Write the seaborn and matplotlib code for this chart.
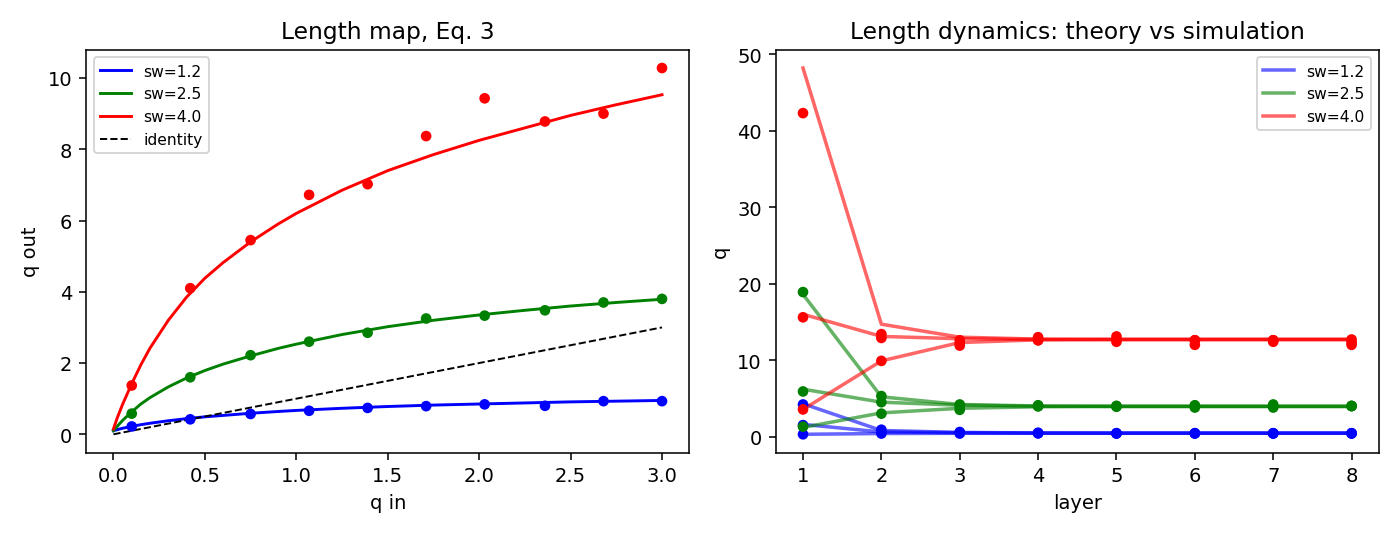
import matplotlib
matplotlib.use("Agg")
import matplotlib.pyplot as plt
import seaborn as sns
import pandas as pd

plt.rcParams['font.family'] = ['DejaVu Sans']

# Left panel data
q_curve = [0, 0.02, 0.05, 0.1, 0.15, 0.2, 0.3, 0.4, 0.5, 0.6, 0.75, 0.9, 1.0, 1.25, 1.5, 1.75, 2.0, 2.25, 2.5, 2.75, 3.0]
curve = {
    "1.2": [0.1, 0.13, 0.17, 0.22, 0.27, 0.31, 0.38, 0.44, 0.49, 0.53, 0.59, 0.64, 0.67, 0.73, 0.78, 0.82, 0.85, 0.88, 0.91, 0.93, 0.95],
    "2.5": [0.1, 0.22, 0.39, 0.63, 0.85, 1.03, 1.33, 1.58, 1.79, 1.97, 2.2, 2.41, 2.53, 2.8, 3.02, 3.2, 3.35, 3.48, 3.6, 3.7, 3.79],
    "4.0": [0.15, 0.45, 0.84, 1.42, 1.95, 2.42, 3.2, 3.85, 4.38, 4.82, 5.4, 5.9, 6.2, 6.85, 7.4, 7.85, 8.25, 8.6, 8.95, 9.25, 9.53],
}
q_pts = [0.1, 0.42, 0.75, 1.07, 1.39, 1.71, 2.03, 2.36, 2.68, 3.0]
pts = {
    "1.2": [0.22, 0.42, 0.57, 0.66, 0.74, 0.79, 0.84, 0.80, 0.93, 0.93],
    "2.5": [0.58, 1.6, 2.22, 2.6, 2.85, 3.25, 3.33, 3.48, 3.7, 3.8],
    "4.0": [1.37, 4.1, 5.45, 6.72, 7.02, 8.37, 9.43, 8.78, 9.0, 10.28],
}
identity = [0, 3.0]

# Right panel data
layers = [1, 2, 3, 4, 5, 6, 7, 8]
theory = {
    "1.2": [[4.3, 0.8, 0.55, 0.47, 0.45, 0.45, 0.45, 0.45],
            [1.6, 0.6, 0.5, 0.46, 0.45, 0.45, 0.45, 0.45],
            [0.3, 0.4, 0.43, 0.44, 0.45, 0.45, 0.45, 0.45]],
    "2.5": [[18.6, 5.2, 4.2, 4.0, 3.95, 3.95, 3.95, 3.95],
            [6.2, 4.5, 4.1, 3.97, 3.95, 3.95, 3.95, 3.95],
            [1.2, 3.1, 3.7, 3.9, 3.95, 3.95, 3.95, 3.95]],
    "4.0": [[48.2, 14.7, 13.0, 12.75, 12.7, 12.7, 12.7, 12.7],
            [16.0, 13.1, 12.8, 12.7, 12.7, 12.7, 12.7, 12.7],
            [3.55, 9.9, 12.3, 12.65, 12.7, 12.7, 12.7, 12.7]],
}
sim = {
    "1.2": [[4.2, 0.9, 0.6, 0.5, 0.45, 0.45, 0.45, 0.45],
            [1.5, 0.6, 0.5, 0.45, 0.42, 0.4, 0.42, 0.4],
            [0.3, 0.4, 0.4, 0.42, 0.4, 0.42, 0.4, 0.42]],
    "2.5": [[18.9, 5.3, 4.2, 4.1, 4.0, 4.1, 4.2, 4.0],
            [5.9, 4.5, 3.9, 3.95, 3.9, 3.8, 3.8, 4.0],
            [1.3, 3.0, 3.5, 4.0, 4.0, 4.0, 4.0, 4.0]],
    "4.0": [[42.3, 13.4, 12.6, 13.0, 13.1, 12.6, 12.6, 12.7],
            [15.6, 12.9, 12.2, 12.6, 12.4, 12.0, 12.4, 12.0],
            [3.55, 9.9, 11.9, 12.6, 12.7, 12.6, 12.6, 12.3]],
}
colors = {"1.2": "blue", "2.5": "green", "4.0": "red"}

fig, (ax1, ax2) = plt.subplots(1, 2, figsize=(10, 3.814), dpi=140)

for sw in ["1.2", "2.5", "4.0"]:
    sns.lineplot(x=q_curve, y=curve[sw], ax=ax1, color=colors[sw], lw=1.5, label=f"sw={sw}")
    sns.scatterplot(x=q_pts, y=pts[sw], ax=ax1, color=colors[sw], s=30, edgecolor="none", zorder=3)
ax1.plot([0, 3.0], identity, "k--", lw=1, label="identity")
ax1.set_xlabel("q in")
ax1.set_ylabel("q out")
ax1.set_title("Length map, Eq. 3")
ax1.legend(fontsize=8, loc="upper left")

for sw in ["1.2", "2.5", "4.0"]:
    for i, (t, s) in enumerate(zip(theory[sw], sim[sw])):
        ax2.plot(layers, t, color=colors[sw], alpha=0.6, lw=1.8, label=f"sw={sw}" if i == 0 else None)
        sns.scatterplot(x=layers, y=s, ax=ax2, color=colors[sw], s=30, edgecolor="none", zorder=3)
ax2.set_xlabel("layer")
ax2.set_ylabel("q")
ax2.set_title("Length dynamics: theory vs simulation")
ax2.set_yticks([0, 10, 20, 30, 40, 50])
ax2.legend(fontsize=8, loc="upper right")

fig.tight_layout()
fig.savefig("out.png", dpi=140)
